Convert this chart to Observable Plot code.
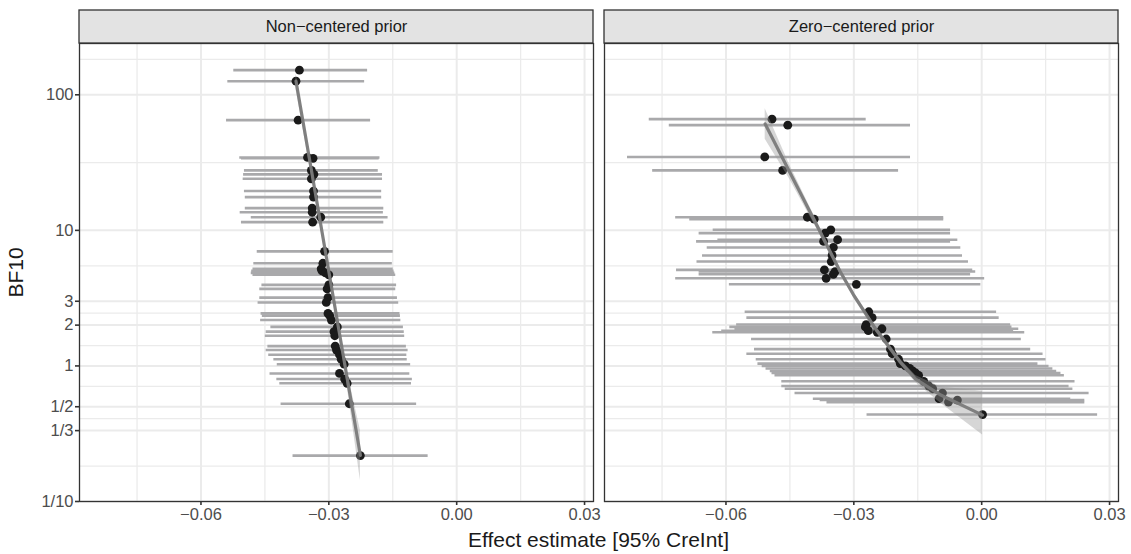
<!DOCTYPE html>
<html>
<head>
<meta charset="utf-8">
<script src="https://cdn.jsdelivr.net/npm/d3@7"></script>
<script src="https://cdn.jsdelivr.net/npm/@observablehq/plot@0.6"></script>
<style>
  html, body { margin: 0; padding: 0; background: #fff; }
  #wrap { width: 1131px; font-family: "Liberation Sans", Arial, Helvetica, sans-serif; }
  #xtitle { box-sizing: border-box; width: 1131px; padding-left: 79px; padding-right: 13px; height: 26px; line-height: 24px; text-align: center; font-size: 21px; color: #1a1a1a; white-space: nowrap; }
  #wrap svg g[aria-label="x-axis tick label"] { font-size: 16.5px; }
  #wrap svg g[aria-label="y-axis label"] { font-size: 21px; fill: #1a1a1a; }
</style>
</head>
<body>
<div id="wrap"></div>
<script>
// ---- Facets
const priors = ["Non\u2212centered prior", "Zero\u2212centered prior"];

// ---- Non-centered prior: BF10, estimate, 95% CrI
const ncBF  = [152, 126, 65, 34.5, 34.0, 27.7, 25.9, 24.0, 19.5, 17.6, 14.6, 13.6, 12.5, 11.5, 7.0, 5.72, 5.2, 5.03, 4.86, 4.70, 3.96, 3.70, 3.19, 2.94, 2.44, 2.35, 2.18, 1.94, 1.79, 1.67, 1.40, 1.31, 1.21, 1.12, 1.03, 0.88, 0.80, 0.745, 0.526, 0.218];
const ncEst = [-0.0369, -0.0377, -0.0372, -0.0350, -0.0337, -0.0341, -0.0335, -0.0341, -0.0336, -0.0336, -0.0339, -0.0339, -0.0319, -0.0338, -0.0310, -0.0314, -0.0318, -0.0316, -0.0308, -0.0300, -0.0300, -0.0304, -0.0302, -0.0306, -0.0302, -0.0298, -0.0294, -0.0280, -0.0288, -0.0286, -0.0285, -0.0282, -0.0275, -0.0271, -0.0264, -0.0275, -0.0263, -0.0257, -0.0252, -0.0226];
const ncLo  = [-0.0523, -0.0537, -0.0540, -0.0509, -0.0505, -0.0498, -0.0500, -0.0501, -0.0498, -0.0496, -0.0496, -0.0508, -0.0482, -0.0505, -0.0468, -0.0476, -0.0478, -0.0481, -0.0482, -0.0478, -0.0457, -0.0462, -0.0462, -0.0466, -0.0459, -0.0456, -0.0460, -0.0436, -0.0447, -0.0449, -0.0443, -0.0447, -0.0441, -0.0429, -0.0421, -0.0438, -0.0422, -0.0415, -0.0412, -0.0384];
const ncHi  = [-0.0209, -0.0216, -0.0202, -0.0180, -0.0182, -0.0184, -0.0174, -0.0174, -0.0176, -0.0176, -0.0171, -0.0172, -0.0161, -0.0171, -0.0149, -0.0151, -0.0149, -0.0147, -0.0145, -0.0143, -0.0141, -0.0143, -0.0139, -0.0136, -0.0133, -0.0132, -0.0131, -0.0125, -0.0123, -0.0122, -0.0118, -0.0114, -0.0117, -0.0116, -0.0108, -0.0110, -0.0104, -0.0106, -0.0094, -0.0067];

// ---- Zero-centered prior: BF10, estimate, 95% CrI
const zcBF  = [66.1, 59.7, 34.8, 27.7, 12.5, 12.1, 10.1, 9.55, 8.53, 8.29, 7.48, 6.53, 5.89, 5.11, 4.97, 4.74, 4.43, 4.00, 2.51, 2.27, 2.02, 1.94, 1.88, 1.82, 1.77, 1.58, 1.33, 1.23, 1.12, 1.04, 1.00, 0.958, 0.918, 0.887, 0.853, 0.770, 0.711, 0.679, 0.631, 0.573, 0.560, 0.541, 0.438];
const zcEst = [-0.0492, -0.0455, -0.0509, -0.0467, -0.0409, -0.0393, -0.0354, -0.0367, -0.0338, -0.0371, -0.0348, -0.0351, -0.0353, -0.0369, -0.0344, -0.0348, -0.0365, -0.0294, -0.0265, -0.0257, -0.0271, -0.0273, -0.0234, -0.0266, -0.0245, -0.0224, -0.0214, -0.0210, -0.0195, -0.0191, -0.0179, -0.0169, -0.0162, -0.0155, -0.0148, -0.0136, -0.0124, -0.0115, -0.0092, -0.0100, -0.0057, -0.0078, 0.0002];
const zcLo  = [-0.0780, -0.0733, -0.0831, -0.0772, -0.0718, -0.0685, -0.0630, -0.0663, -0.0619, -0.0669, -0.0644, -0.0655, -0.0668, -0.0716, -0.0663, -0.0663, -0.0718, -0.0592, -0.0555, -0.0551, -0.0575, -0.0591, -0.0579, -0.0610, -0.0631, -0.0540, -0.0533, -0.0551, -0.0529, -0.0525, -0.0515, -0.0506, -0.0496, -0.0492, -0.0485, -0.0469, -0.0469, -0.0461, -0.0438, -0.0395, -0.0379, -0.0363, -0.0269];
const zcHi  = [-0.0271, -0.0167, -0.0167, -0.0195, -0.0089, -0.0089, -0.0073, -0.0073, -0.0056, -0.0073, -0.0049, -0.0045, -0.0031, -0.0021, -0.0014, -0.0026, 0.0007, -0.0002, 0.0035, 0.0041, 0.0068, 0.0071, 0.0087, 0.0075, 0.0101, 0.0093, 0.0115, 0.0144, 0.0151, 0.0132, 0.0158, 0.0167, 0.0176, 0.0186, 0.0194, 0.0219, 0.0205, 0.0214, 0.0252, 0.0209, 0.0242, 0.0242, 0.0272];

// ---- Smooth fits with confidence band
const ncSmX   = [-0.0377, -0.0340, -0.0300, -0.0263, -0.0245, -0.0226];
const ncSmFit = [126, 26.8, 4.97, 1.045, 0.489, 0.219];
const ncSmLo  = [110, 24.5, 4.72, 0.96, 0.385, 0.143];
const ncSmHi  = [144, 29.3, 5.23, 1.14, 0.62, 0.335];

const zcSmX   = [-0.0508, -0.0450, -0.0388, -0.0332, -0.0301, -0.0249, -0.0191, -0.0155, -0.0096, 0.0002];
const zcSmFit = [61.0, 26.7, 11.1, 4.97, 3.36, 1.88, 1.07, 0.80, 0.61, 0.434];
const zcSmLo  = [47, 23.7, 10.4, 4.73, 3.2, 1.79, 1.02, 0.755, 0.53, 0.31];
const zcSmHi  = [79, 30.1, 11.9, 5.22, 3.53, 1.97, 1.12, 0.85, 0.70, 0.65];

// ---- Axis ticks
const xTicks = [-0.06, -0.03, 0.00, 0.03];
const xMinor = [-0.075, -0.045, -0.015, 0.015];
const yTicks = [0.1, 1/3, 1/2, 1, 2, 3, 10, 100];
const yTickLabels = ["1/10", "1/3", "1/2", "1", "2", "3", "10", "100"];
const xDomain = [-0.0885, 0.0321];
const yDomain = [0.1, 239];

// ---- Build tables
const rows = [
  ...ncBF.map((b, i) => ({prior: priors[0], bf: b, est: ncEst[i], lo: ncLo[i], hi: ncHi[i]})),
  ...zcBF.map((b, i) => ({prior: priors[1], bf: b, est: zcEst[i], lo: zcLo[i], hi: zcHi[i]}))
];
const smooth = [
  ...ncSmX.map((x, i) => ({prior: priors[0], x, fit: ncSmFit[i], lo: ncSmLo[i], hi: ncSmHi[i]})),
  ...zcSmX.map((x, i) => ({prior: priors[1], x, fit: zcSmFit[i], lo: zcSmLo[i], hi: zcSmHi[i]}))
];
const yTickRows = yTicks.map((v, i) => ({prior: priors[0], v, label: yTickLabels[i]}));
// minor y grid at midpoints (log space) of major breaks, incl. extension above
const logs = yTicks.map(Math.log10);
const yMinor = [];
for (let i = 0; i < logs.length - 1; i++) yMinor.push(10 ** ((logs[i] + logs[i + 1]) / 2));
yMinor.push(10 ** (logs[logs.length - 1] + (logs[1] - logs[0]) / 2));

// ---- Layout
const W = 1131, H = 528, mT = 43, mB = 27, mL = 79, mR = 13;
const decadePx = (H - mT - mB) / Math.log10(yDomain[1] / yDomain[0]);
const stripPx = 33;
const stripTop = yDomain[1] * 10 ** (stripPx / decadePx);
const stripMid = yDomain[1] * 10 ** ((stripPx / 2) / decadePx);
const strips = priors.map(p => ({prior: p}));

const grid = "#ebebeb";
const plot = Plot.plot({
  width: W, height: H,
  marginTop: mT, marginBottom: mB, marginLeft: mL, marginRight: mR,
  style: {fontFamily: "'Liberation Sans', Arial, Helvetica, sans-serif", fontSize: "16.5px", background: "#fff", color: "#333", overflow: "visible"},
  fx: {domain: priors, paddingInner: 0.021, paddingOuter: 0, axis: null, label: null},
  x: {domain: xDomain},
  y: {type: "log", domain: yDomain},
  marks: [
    Plot.gridX({ticks: xMinor, stroke: grid, strokeOpacity: 1, strokeWidth: 1.3}),
    Plot.gridY({ticks: yMinor, stroke: grid, strokeOpacity: 1, strokeWidth: 1.3}),
    Plot.gridX({ticks: xTicks, stroke: grid, strokeOpacity: 1, strokeWidth: 2}),
    Plot.gridY({ticks: yTicks, stroke: grid, strokeOpacity: 1, strokeWidth: 2}),
    Plot.ruleY(rows, {fx: "prior", y: "bf", x1: "lo", x2: "hi", stroke: "#a9a9ab", strokeWidth: 2.6}),
    Plot.dot(rows, {fx: "prior", x: "est", y: "bf", r: 4.4, fill: "#1a1a1a", stroke: "none"}),
    Plot.areaY(smooth, {fx: "prior", x: "x", y1: "lo", y2: "hi", fill: "#999999", fillOpacity: 0.4}),
    Plot.line(smooth, {fx: "prior", x: "x", y: "fit", stroke: "#7a7a7a", strokeWidth: 3.2, strokeOpacity: 0.95}),
    Plot.frame({stroke: "#333", strokeWidth: 1.3}),
    Plot.rect(strips, {fx: "prior", x1: () => xDomain[0], x2: () => xDomain[1], y1: () => yDomain[1], y2: () => stripTop, fill: "#e3e3e3", stroke: "#333", strokeWidth: 1.3}),
    Plot.text(strips, {fx: "prior", x: () => (xDomain[0] + xDomain[1]) / 2, y: () => stripMid, text: "prior", fontSize: 16.5, fill: "#1a1a1a"}),
    Plot.axisX({ticks: xTicks, tickFormat: d3.format(".2f"), tickSize: 4, tickPadding: 3, label: null, stroke: "#333", fill: "#4d4d4d", strokeWidth: 1.6}),
    Plot.axisY({ticks: yTicks, tickFormat: () => "", tickSize: 4, stroke: "#333", strokeWidth: 1.6,
      label: "BF10", labelAnchor: "center", labelOffset: 71, labelArrow: "none"}),
    Plot.text(yTickRows, {fx: "prior", y: "v", text: "label", frameAnchor: "left", dx: -6, textAnchor: "end", fill: "#4d4d4d", fontSize: 16.5})
  ]
});
const wrap = document.getElementById("wrap");
wrap.appendChild(plot);
const xt = document.createElement("div");
xt.id = "xtitle";
xt.textContent = "Effect estimate [95% CreInt]";
wrap.appendChild(xt);
</script>
</body>
</html>
